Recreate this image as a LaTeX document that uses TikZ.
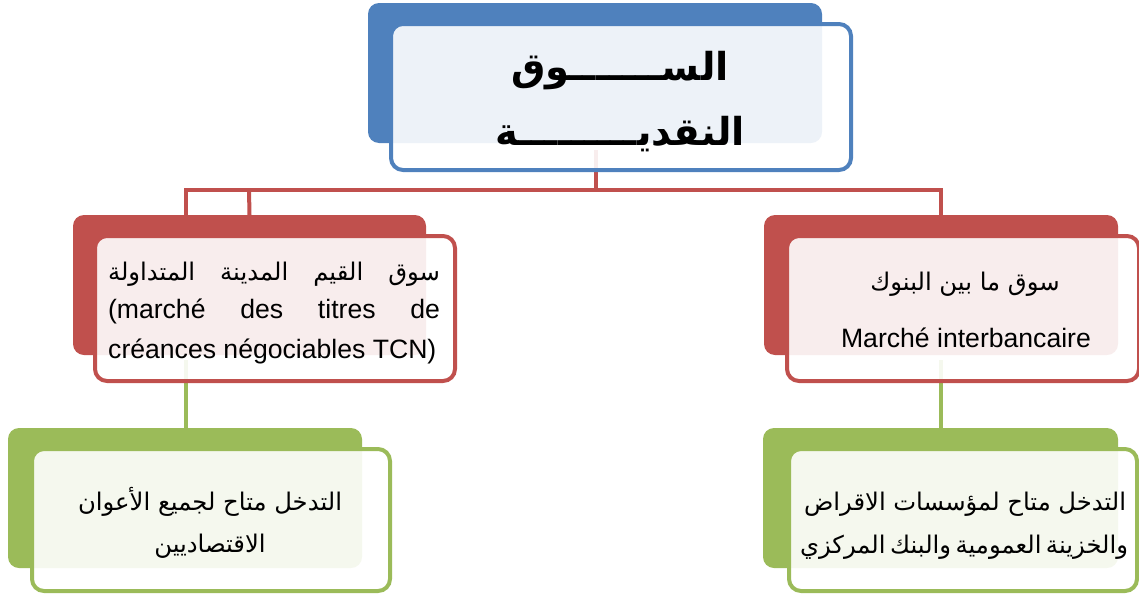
\documentclass[tikz,border=0pt]{standalone}
\usepackage{fontspec}
\setmainfont{Liberation Sans}
\newfontfamily\arabicfont[Script=Arabic]{DejaVu Sans}
\TeXXeTstate=1
\definecolor{cblue}{HTML}{4F81BD}
\definecolor{cred}{HTML}{C0504D}
\definecolor{cgreen}{HTML}{9BBB59}
\begin{document}
\begin{tikzpicture}[x=1pt,y=-1pt,
  backbox/.style={rectangle,rounded corners=11pt,inner sep=0pt,outer sep=0pt},
  frontbox/.style={rectangle,rounded corners=12pt,inner sep=0pt,outer sep=0pt,line width=4pt,fill=white,fill opacity=0.9},
  link/.style={line width=4pt},
  txt/.style={inner sep=0pt,anchor=base,text opacity=1},
  artxt/.style={txt,font=\arabicfont\fontsize{24.3}{27}\selectfont},
  latxt/.style={txt,font=\fontsize{26.6}{29}\selectfont}]
\useasboundingbox (0,0) rectangle (1139,597);
% back boxes
\node[backbox,fill=cblue,minimum width=454pt,minimum height=140pt] (topB) at (595,73) {};
\node[backbox,fill=cred,minimum width=353pt,minimum height=140pt] (lrB) at (249.5,285) {};
\node[backbox,fill=cred,minimum width=354pt,minimum height=140pt] (rrB) at (941,285) {};
\node[backbox,fill=cgreen,minimum width=354pt,minimum height=140pt] (lgB) at (185,498) {};
\node[backbox,fill=cgreen,minimum width=355pt,minimum height=140pt] (rgB) at (940.5,498) {};
% connectors
\coordinate (jt) at (596,150);
\coordinate (jm) at (596,190);
\coordinate (jl) at (186,190);
\coordinate (jl2) at (249,190);
\coordinate (jr) at (941,190);
\draw[link,cred] (jt) -- (jm);
\draw[link,cred] (186,215) -- (jl) -- (jr) -- (rrB.north);
\draw[link,cred] (jl2) -- (lrB.north);
\coordinate (gl) at (186,360);
\coordinate (gr) at (941,360);
\draw[link,cgreen] (gl) -- (gl |- lgB.north);
\draw[link,cgreen] (gr) -- (gr |- rgB.north);
% front boxes
\node[frontbox,draw=cblue,minimum width=460pt,minimum height=146pt] (topF) at (621,97) {};
\node[frontbox,draw=cred,minimum width=360pt,minimum height=145pt] (lrF) at (275,308.5) {};
\node[frontbox,draw=cred,minimum width=352pt,minimum height=145pt] (rrF) at (963,308.5) {};
\node[frontbox,draw=cgreen,minimum width=358pt,minimum height=142pt] (lgF) at (211,520) {};
\node[frontbox,draw=cgreen,minimum width=348pt,minimum height=142pt] (rgF) at (963,520) {};
% texts
\node[txt,font=\arabicfont\bfseries\fontsize{38.5}{40}\selectfont] (t1) at (620,80) {\beginR الســـــــوق\endR};
\node[txt,font=\arabicfont\bfseries\fontsize{38.5}{40}\selectfont] (t2) at (620,145) {\beginR النقديـــــــــة\endR};
\node[artxt] (l1) at (274,280) {\hbox to 332pt{\beginR سوق\hfill القيم\hfill المدينة\hfill المتداولة\endR}};
\node[latxt] (l2) at (274,318) {\hbox to 332pt{(marché\hfill des\hfill titres\hfill de}};
\node[latxt,anchor=base west] (l3) at (108,358) {créances négociables TCN)};
\node[artxt] (r1) at (965,290) {\beginR سوق ما بين البنوك\endR};
\node[latxt] (r2) at (966,347) {Marché interbancaire};
\node[artxt] (g1) at (210,510) {\beginR التدخل متاح لجميع الأعوان\endR};
\node[artxt] (g2) at (210,552) {\beginR الاقتصاديين\endR};
\node[artxt] (h1) at (965,510) {\hbox to 322pt{\beginR التدخل\hfill متاح\hfill لمؤسسات\hfill الاقراض\endR}};
\node[artxt] (h2) at (964,553) {\hbox to 328pt{\beginR والخزينة\hfill العمومية\hfill والبنك\hfill المركزي\endR}};
\end{tikzpicture}
\end{document}
